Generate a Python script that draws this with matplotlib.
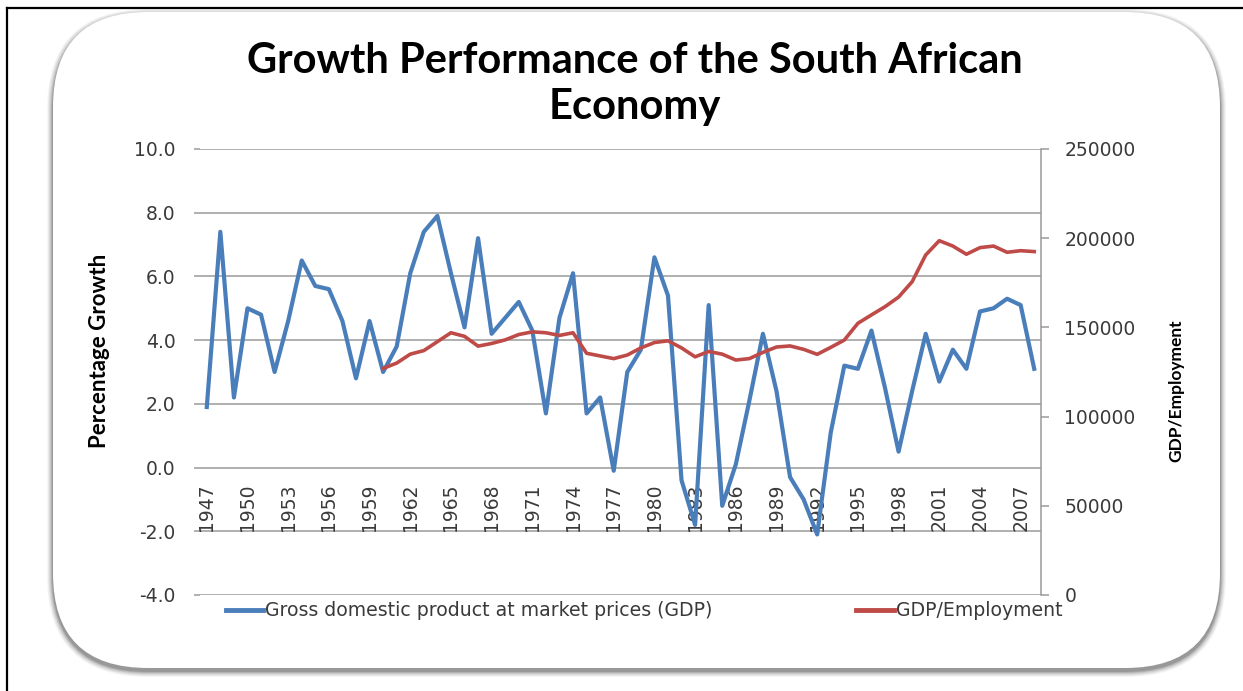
import numpy as np
import matplotlib
matplotlib.use("Agg")
import matplotlib.pyplot as plt
from matplotlib.patches import FancyBboxPatch
from matplotlib.lines import Line2D

# ---------------- data ----------------
years = list(range(1947, 2009))
gdp_growth = [1.9, 7.4, 2.2, 5.0, 4.8, 3.0, 4.6, 6.5, 5.7, 5.6,
              4.6, 2.8, 4.6, 3.0, 3.8, 6.1, 7.4, 7.9, 6.1, 4.4,
              7.2, 4.2, 4.7, 5.2, 4.3, 1.7, 4.7, 6.1, 1.7, 2.2,
              -0.1, 3.0, 3.7, 6.6, 5.4, -0.4, -1.8, 5.1, -1.2, 0.1,
              2.1, 4.2, 2.4, -0.3, -1.0, -2.1, 1.1, 3.2, 3.1, 4.3,
              2.5, 0.5, 2.4, 4.2, 2.7, 3.7, 3.1, 4.9, 5.0, 5.3,
              5.1, 3.1]
emp_years = list(range(1960, 2009))
gdp_per_emp = [127000, 130000, 135000, 137000, 142000, 147000, 145000, 139500, 141000, 143000,
               146000, 147500, 147000, 145500, 147000, 135500, 134000, 132500, 134500, 138500,
               141500, 142500, 138500, 133500, 136500, 135000, 131700, 132500, 136000, 139000,
               139600, 137700, 134900, 138800, 142900, 152300, 157000, 161600, 167000, 175600,
               190600, 198600, 195600, 191000, 194700, 195600, 192100, 193000, 192500]
year_ticks = list(range(1947, 2008, 3))
left_ticks = [-4, -2, 0, 2, 4, 6, 8, 10]
right_ticks = [0, 50000, 100000, 150000, 200000, 250000]

title = "Growth Performance of the South African\nEconomy"
label_gdp = "Gross domestic product at market prices (GDP)"
label_emp = "GDP/Employment"

BLUE = "#4A7EBB"
RED = "#BE4B48"
GRID = "#9a9a9a"
TXT = "#3a3a3a"

W, H = 1243, 691
fig = plt.figure(figsize=(W / 100, H / 100), dpi=100)

# ---------------- background: frame + rounded box with shadow ----------------
bg = fig.add_axes([0, 0, 1, 1], zorder=0)
bg.set_xlim(0, W)
bg.set_ylim(H, 0)
bg.axis("off")
bx, by, bw, bh, r = 53, 12, 1167, 656, 95
for e, a in [(6, 0.04), (5, 0.05), (4, 0.06), (3, 0.08), (2, 0.11), (1, 0.14)]:
    bg.add_patch(FancyBboxPatch((bx - e, by - e + 3), bw + 2 * e, bh + 2 * e,
                                boxstyle=f"round,pad=0,rounding_size={r + e}",
                                fc="black", ec="none", alpha=a))
bg.add_patch(FancyBboxPatch((bx, by), bw, bh, boxstyle=f"round,pad=0,rounding_size={r}",
                            fc="white", ec="none"))
bg.add_line(Line2D([7, W], [8, 8], color="black", lw=1.6))
bg.add_line(Line2D([7, 7], [8, H], color="black", lw=1.6))

# ---------------- main axes ----------------
ax = fig.add_axes([200 / W, 1 - 595 / H, 841 / W, 446 / H], zorder=2)
ax.patch.set_alpha(0)
ax.set_xlim(1946.5, 2008.5)
ax.set_ylim(-4, 10)
ax.set_yticks(left_ticks)
ax.set_yticklabels([f"{v:.1f}" for v in left_ticks])
ax.yaxis.grid(True, color=GRID, lw=1.1)
ax.set_axisbelow(True)
for s in ax.spines.values():
    s.set_visible(False)
ax.tick_params(axis="y", length=4, color=GRID, width=1.1, pad=13.5,
               labelsize=13.5, labelcolor=TXT)
ax.tick_params(axis="x", bottom=False, labelbottom=False)
for yr in year_ticks:
    ax.text(yr, -2, str(yr), rotation=90, ha="center", va="bottom",
            fontsize=13.5, color=TXT, zorder=1)
ax.plot(years, gdp_growth, color=BLUE, lw=3.0, zorder=3, solid_joinstyle="round")
ax.set_ylabel("Percentage Growth", fontfamily="Lato", fontweight="bold",
              fontsize=16, color="black")
ax.yaxis.set_label_coords(-0.107, 0.547)

ax2 = ax.twinx()
ax2.set_ylim(0, 250000)
ax2.set_yticks(right_ticks)
ax2.set_yticklabels([str(v) for v in right_ticks])
for k, s in ax2.spines.items():
    s.set_visible(k == "right")
ax2.spines["right"].set_color(GRID)
ax2.spines["right"].set_linewidth(1.1)
ax2.tick_params(axis="y", length=6, color=GRID, width=1.1, pad=10.8,
                labelsize=13.5, labelcolor=TXT)
ax2.plot(emp_years, gdp_per_emp, color=RED, lw=2.6, zorder=3, solid_joinstyle="round")
ax2.set_ylabel("GDP/Employment", fontfamily="Lato", fontweight="bold",
               fontsize=12.5, color="black")
ax2.yaxis.set_label_coords(1.151, 0.457)

# ---------------- title ----------------
fig.text(635 / W, 1 - 42 / H, title, ha="center", va="top", fontfamily="Lato",
         fontweight="bold", fontsize=30, linespacing=1.25, color="black")

# ---------------- legend ----------------
handles = [Line2D([], [], color=BLUE, lw=3.5), Line2D([], [], color=RED, lw=3.5)]
fig.legend(handles, [label_gdp, label_emp], loc="center",
           bbox_to_anchor=(644 / W, 1 - 611 / H), ncol=2, frameon=False,
           fontsize=13.6, handlelength=2.0, handletextpad=0.1, columnspacing=7.6,
           labelcolor=TXT)

fig.savefig("out.png", dpi=100)
